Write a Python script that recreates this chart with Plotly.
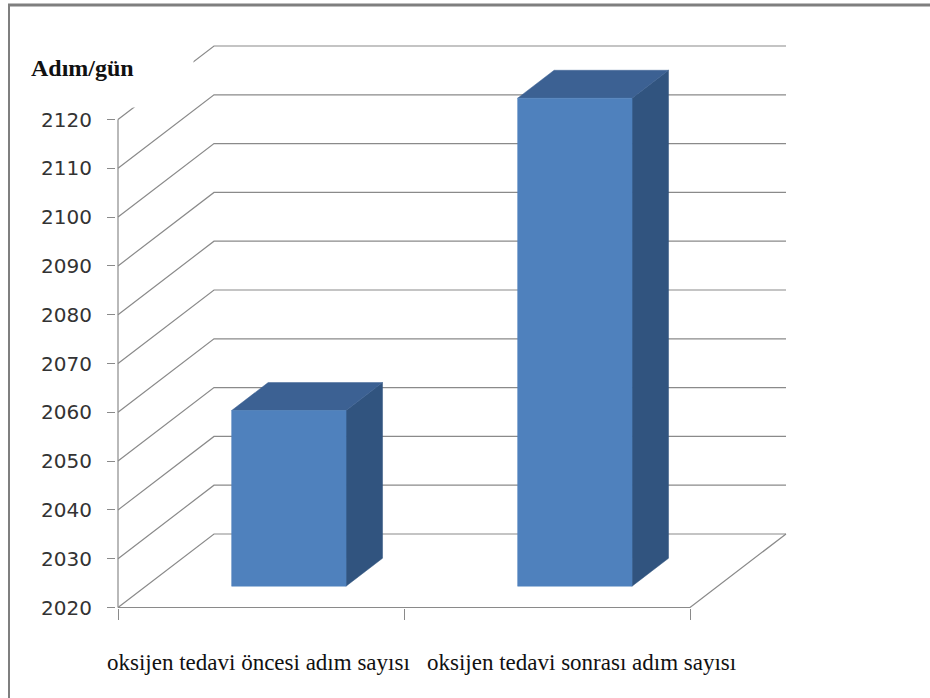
import plotly.graph_objects as go

# ---- data -------------------------------------------------------------
categories = ["oksijen tedavi öncesi adım sayısı", "oksijen tedavi sonrası adım sayısı"]
steps = [2056, 2120]
tick_values = [2020, 2030, 2040, 2050, 2060, 2070, 2080, 2090, 2100, 2110, 2120]
axis_title = "Adım/gün"

# ---- geometry ---------------------------------------------------------
W, H = 930, 698
PX_X = 286.0          # pixels per category slot
PX_Y = 4.88           # pixels per step unit
L, R, T, B = 116, 800, 40, 608
X_RANGE = [-0.5 - (118 - L) / PX_X, -0.5 + (R - 118) / PX_X]
Y_RANGE = [2020 - (B - 607.5) / PX_Y, 2020 + (607.5 - T) / PX_Y]

DX = 96 / PX_X        # oblique depth offset (x, data units)
DY = 73.5 / PX_Y      # oblique depth offset (y, data units)
HALF_W = 0.2          # half bar width
D0, D1 = 0.29, 0.67   # bar depth span

GRID = "#8a8a8a"
FRONT = "#4f81bd"
TOP = "#3c6193"
SIDE = "#31547f"

x_lo, x_hi = -0.5, len(categories) - 0.5
base = tick_values[0]


def proj(x, y, d):
    return x + d * DX, y + d * DY


def poly(points):
    xs = [p[0] for p in points] + [points[0][0]]
    ys = [p[1] for p in points] + [points[0][1]]
    return xs, ys


fig = go.Figure()


def line(pts, width=1.2, color=GRID):
    fig.add_trace(go.Scatter(x=[p[0] for p in pts], y=[p[1] for p in pts],
                             mode="lines", line=dict(color=color, width=width),
                             hoverinfo="skip", showlegend=False))


# back wall + side wall gridlines
for t in tick_values:
    line([proj(x_lo, t, 0), proj(x_lo, t, 1), proj(x_hi, t, 1)])

# floor edges and front value axis
line([proj(x_lo, base, 0), proj(x_hi, base, 0), proj(x_hi, base, 1)])
line([proj(x_lo, base, 0), proj(x_lo, tick_values[-1], 0)])

# 3-D columns
for i, v in enumerate(steps):
    x0, x1 = i - HALF_W, i + HALF_W
    faces = [
        ([proj(x1, base, D0), proj(x1, base, D1), proj(x1, v, D1), proj(x1, v, D0)], SIDE),
        ([proj(x0, v, D0), proj(x1, v, D0), proj(x1, v, D1), proj(x0, v, D1)], TOP),
        ([proj(x0, base, D0), proj(x1, base, D0), proj(x1, v, D0), proj(x0, v, D0)], FRONT),
    ]
    for pts, col in faces:
        xs, ys = poly(pts)
        fig.add_trace(go.Scatter(x=xs, y=ys, mode="lines", fill="toself",
                                 fillcolor=col, line=dict(color=col, width=0.5),
                                 name=categories[i], hoverinfo="skip",
                                 showlegend=False))


def paper_x(px):
    return (px - L) / (R - L)


def paper_y(py):
    return (B - py) / (B - T)


annotations = [
    dict(text=f"<b>{axis_title}</b>", xref="paper", yref="paper",
         x=paper_x(30), y=paper_y(28), xanchor="left", yanchor="top",
         width=162, height=78, align="left", valign="middle",
         bgcolor="white", borderpad=0, showarrow=False,
         font=dict(family="Liberation Serif", size=24, color="#111111")),
]
label_centers = [258, 581]
for cat, cx in zip(categories, label_centers):
    annotations.append(dict(text=cat, xref="paper", yref="paper",
                            x=paper_x(cx), y=paper_y(662), xanchor="center",
                            yanchor="middle", showarrow=False,
                            font=dict(family="Liberation Serif", size=23,
                                      color="#111111")))

shapes = [
    dict(type="line", xref="paper", yref="paper", x0=paper_x(8), x1=paper_x(930),
         y0=paper_y(5), y1=paper_y(5), line=dict(color="#7f7f7f", width=3)),
    dict(type="line", xref="paper", yref="paper", x0=paper_x(9), x1=paper_x(9),
         y0=paper_y(4), y1=paper_y(698), line=dict(color="#7f7f7f", width=2)),
]

fig.update_layout(
    width=W, height=H,
    margin=dict(l=L, r=W - R, t=T, b=H - B, pad=0),
    paper_bgcolor="white", plot_bgcolor="white",
    showlegend=False,
    annotations=annotations, shapes=shapes,
    xaxis=dict(range=X_RANGE, showgrid=False, zeroline=False, showline=False,
               tickmode="array", tickvals=[-0.5, 0.5, 1.5], ticks="outside",
               ticklen=11, tickcolor=GRID, tickwidth=1.2, showticklabels=False,
               fixedrange=True),
    yaxis=dict(range=Y_RANGE, showgrid=False, zeroline=False, showline=False,
               tickmode="array", tickvals=tick_values, ticks="outside",
               ticklen=8, tickcolor=GRID, tickwidth=1.2,
               ticklabelstandoff=11,
               tickfont=dict(family="DejaVu Sans", size=20, color="#333333"),
               fixedrange=True),
)

fig.write_html("out.html")
